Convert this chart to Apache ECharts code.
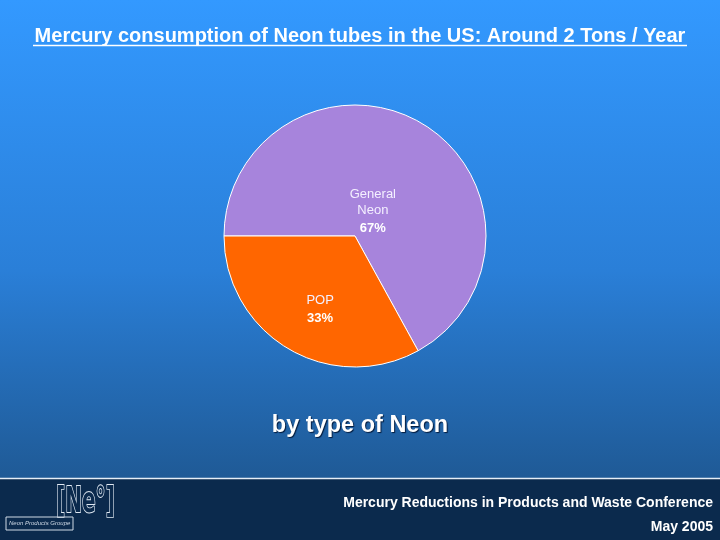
<!DOCTYPE html>
<html><head><meta charset="utf-8">
<script src="https://cdn.jsdelivr.net/npm/echarts@6/dist/echarts.min.js"></script>
<style>html,body{margin:0;padding:0;}#c{width:720px;height:540px;}</style>
</head><body><div id="c"></div>
<script>
const titleText = "Mercury consumption of Neon tubes in the US: Around 2 Tons / Year";
const subtitleText = "by type of Neon";
const categories = ["General\nNeon", "POP"];
const values = [67, 33];
const sliceColors = ["#a784dc", "#ff6600"];
const footerLine1 = "Mercury Reductions in Products and Waste Conference";
const footerLine2 = "May 2005";

const chart = echarts.init(document.getElementById('c'));
const labelOffsets = [[-17, 35], [0, 15]];
const data = categories.map((n, i) => ({
  name: n, value: values[i],
  itemStyle: { color: sliceColors[i] },
  label: { offset: labelOffsets[i] }
}));
const FF = 'Liberation Sans, Arial, sans-serif';
chart.setOption({
  backgroundColor: {
    type: 'linear', x: 0, y: 0, x2: 0, y2: 1,
    colorStops: [
      { offset: 0, color: '#3399ff' },
      { offset: 0.5, color: '#2a7fd8' },
      { offset: 0.885, color: '#1f5a96' },
      { offset: 1, color: '#1f5a96' }
    ]
  },
  title: {
    text: titleText, left: 'center', top: 21,
    textStyle: { color: '#fff', fontSize: 20, fontWeight: 'bold', fontFamily: FF }
  },
  graphic: [
    { type: 'rect', shape: { x: 0, y: 478, width: 720, height: 62 }, style: { fill: '#0b2a4d' }, z: -1 },
    { type: 'line', shape: { x1: 0, y1: 478.5, x2: 720, y2: 478.5 }, style: { stroke: '#e6eef6', lineWidth: 1.5 } },
    { type: 'line', shape: { x1: 33, y1: 45.5, x2: 687, y2: 45.5 }, style: { stroke: '#fff', lineWidth: 1.5 } },
    { type: 'text', left: 'center', top: 414, style: { text: subtitleText, fill: '#fff', fontSize: 23.5, fontWeight: 'bold', fontFamily: FF, textShadowColor: 'rgba(0,20,50,0.9)', textShadowOffsetX: 1, textShadowOffsetY: 1, textShadowBlur: 1 } },
    { type: 'text', right: 7, top: 496, style: { text: footerLine1, fill: '#fff', fontSize: 14, fontWeight: 'bold', fontFamily: FF } },
    { type: 'text', right: 7, top: 520, style: { text: footerLine2, fill: '#fff', fontSize: 14, fontWeight: 'bold', fontFamily: FF } },
    { type: 'text', x: 56, y: 485, scaleX: 0.62, style: { text: '[Ne°]', fill: '#0b2a4d', stroke: '#dfe8f2', lineWidth: 1.8, fontSize: 36, fontWeight: 'bold', fontFamily: 'Liberation Sans Narrow, DejaVu Sans Condensed, sans-serif' } },
    { type: 'rect', shape: { x: 6, y: 517, width: 67, height: 13 }, style: { fill: 'none', stroke: '#cfd9e6', lineWidth: 1 } },
    { type: 'text', left: 9, top: 520, style: { text: 'Neon Products Groupe', fill: '#cfd9e6', fontSize: 6, fontStyle: 'italic', fontFamily: FF } }
  ],
  series: [{
    type: 'pie',
    center: [355, 236],
    radius: 131,
    startAngle: 180,
    clockwise: true,
    animation: false,
    itemStyle: { borderColor: '#ffffff', borderWidth: 1 },
    label: {
      show: true, position: 'inside',
      formatter: p => '{n|' + p.name + '}\n{p|' + Math.round(p.percent) + '%}',
      rich: {
        n: { color: '#f4f0ff', fontSize: 13, lineHeight: 16, fontFamily: FF, align: 'center' },
        p: { color: '#fff', fontSize: 13, fontWeight: 'bold', lineHeight: 19, fontFamily: FF, align: 'center' }
      }
    },
    labelLine: { show: false },
    data: data
  }]
});
</script></body></html>
